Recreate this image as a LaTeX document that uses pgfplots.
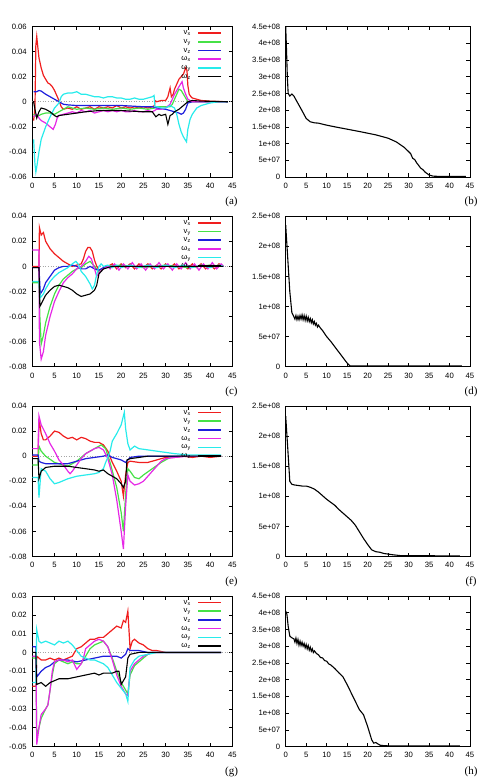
\documentclass[border=0pt]{standalone}
\usepackage{fontspec}
\setmainfont{Liberation Serif}
\newfontfamily\sansf{Liberation Sans}
\usepackage{pgfplots}
\pgfplotsset{compat=1.18}
\newcommand\tickfont{\sansf\fontsize{7.7}{9}\selectfont}
\newcommand\labfont{\rmfamily\fontsize{11}{13}\selectfont}
\definecolor{cR}{RGB}{240,30,30}
\definecolor{cG}{RGB}{70,225,70}
\definecolor{cB}{RGB}{30,30,220}
\definecolor{cM}{RGB}{230,40,230}
\definecolor{cC}{RGB}{40,235,235}
\pgfplotsset{
  base/.style={scale only axis, anchor=south west, xmin=0, xmax=45,
    xtick={0,5,...,45}, xticklabels={0,5,10,15,20,25,30,35,40,45},
    scaled x ticks=false, scaled y ticks=false,
    tick align=inside, major tick length=3.5pt,
    every tick/.style={black, line width=0.5pt},
    axis line style={line width=0.6pt},
    ticklabel style={font=\tickfont},
    xticklabel style={yshift=-2.5pt},
    yticklabel style={xshift=-2pt},
    height=150.5pt},
  lpanel/.style={base, width=200pt,
    legend style={draw=none, fill=none, font=\tickfont, at={(0.9485,0.987)}, anchor=north east,
      inner sep=0pt, column sep=6pt, nodes={inner sep=0.5pt, text height=5.5pt, text depth=2.2pt}},
    legend plot pos=right, legend cell align=right,
    legend image code/.code={\draw[##1, line width=1.6pt] (0pt,0pt) -- (23pt,0pt);}},
  rpanel/.style={base, width=184.3pt, ymin=0, clip=false},
  ser/.style={#1, line width=1.2pt, no markers, solid},
  blk/.style={black, line width=1.1pt, no markers, solid},
  zline/.style={gray!70, dotted, line width=0.6pt, no markers, forget plot},
}
\begin{document}
\begin{tikzpicture}
\path[use as bounding box] (0,0) rectangle (484pt,780pt);
% ---------------- (a)
\begin{axis}[lpanel, at={(32.3pt,603pt)}, ymin=-0.06, ymax=0.06,
  ytick={-0.06,-0.04,-0.02,0,0.02,0.04,0.06}, yticklabels={-0.06,-0.04,-0.02,0,0.02,0.04,0.06}]
\addplot[zline] coordinates {(0,0) (45,0)};
\addplot[ser=cR] coordinates {(0.3,-0.015)(0.6,-0.005)(0.8,0.045)(1.0,0.052)(1.2,0.045)(1.5,0.035)(2,0.027)(2.5,0.021)(3,0.018)(3.5,0.015)(4,0.014)(4.5,0.012)(5,0.009)(5.5,0.005)(6,0.001)(6.5,-0.004)(7,-0.006)(8,-0.005)(9,-0.006)(10,-0.004)(11,-0.006)(12,-0.005)(13,-0.004)(14,-0.006)(15,-0.004)(16,-0.005)(17,-0.004)(18,-0.005)(19,-0.003)(20,-0.005)(21,-0.004)(22,-0.005)(23,-0.004)(24,-0.005)(25,-0.004)(26,-0.005)(27,-0.004)(27.5,-0.003)(27.6,0.001)(28,0.000)(29,0.001)(30,0.001)(30.5,0.004)(31,0.011)(31.3,0.004)(31.7,0.006)(32,0.010)(32.5,0.014)(33,0.018)(33.5,0.020)(34,0.022)(34.5,0.027)(34.8,0.025)(35,0.013)(35.3,0.006)(35.7,0.004)(36,0.003)(37,0.002)(38,0.001)(40,0.0005)(42,0.0002)(44,0)};
\addlegendentry{v\textsubscript{x}}
\addplot[ser=cG] coordinates {(0.3,-0.01)(1,-0.012)(2,-0.010)(3,-0.009)(4,-0.009)(5,-0.010)(6,-0.008)(7,-0.006)(8,-0.004)(9,-0.005)(10,-0.006)(12,-0.005)(14,-0.006)(16,-0.005)(18,-0.006)(20,-0.005)(22,-0.006)(24,-0.005)(26,-0.006)(27.5,-0.005)(28,-0.004)(29,-0.004)(30,-0.004)(31,-0.004)(31.5,-0.002)(32,0.002)(32.5,0.006)(33,0.010)(33.5,0.009)(34,0.006)(34.5,0.003)(35,0.000)(36,0.000)(40,0)(44,0)};
\addlegendentry{v\textsubscript{y}}
\addplot[ser=cB] coordinates {(0.3,0.008)(1,0.008)(1.5,0.009)(2,0.0085)(3,0.006)(4,0.004)(5,0.002)(6,0.000)(7,-0.002)(8,-0.0025)(10,-0.003)(15,-0.003)(20,-0.003)(25,-0.004)(27,-0.004)(28,-0.005)(30,-0.006)(31,-0.007)(32,-0.008)(33,-0.009)(33.5,-0.010)(34,-0.009)(34.5,-0.006)(35,-0.001)(36,0.000)(44,0)};
\addlegendentry{v\textsubscript{z}}
\addplot[ser=cM] coordinates {(0.3,-0.012)(1,-0.010)(1.5,-0.013)(2,-0.015)(3,-0.017)(4,-0.020)(4.7,-0.022)(5.2,-0.018)(5.6,-0.013)(6,-0.011)(7,-0.010)(8,-0.009)(9,-0.008)(10,-0.009)(11,-0.007)(12,-0.008)(13,-0.007)(14,-0.009)(15,-0.008)(16,-0.007)(17,-0.008)(18,-0.007)(19,-0.008)(20,-0.007)(21,-0.008)(22,-0.008)(23,-0.007)(24,-0.008)(25,-0.008)(26,-0.007)(27,-0.008)(28,-0.006)(29,-0.006)(30,-0.005)(31,-0.002)(32,0.006)(32.5,0.009)(33,0.012)(33.7,0.016)(34,0.011)(34.5,0.006)(35,0.002)(36,0.000)(44,0)};
\addlegendentry{ω\textsubscript{x}}
\addplot[ser=cC] coordinates {(0.3,-0.030)(0.6,-0.050)(0.8,-0.056)(1.0,-0.052)(1.5,-0.040)(2,-0.030)(2.5,-0.025)(3,-0.020)(4,-0.012)(5,-0.005)(6,-0.001)(6.5,0.004)(7,0.006)(8,0.007)(9,0.007)(10,0.008)(11,0.006)(12,0.006)(13,0.005)(14,0.004)(15,0.004)(16,0.003)(17,0.004)(18,0.004)(19,0.003)(20,0.003)(21,0.002)(22,0.002)(23,0.003)(24,0.002)(25,0.002)(26,0.003)(27,0.004)(27.4,0.005)(27.6,-0.004)(28,-0.004)(29,-0.005)(30,-0.005)(31,-0.003)(32,-0.005)(32.5,-0.010)(33,-0.018)(33.5,-0.024)(34,-0.028)(34.7,-0.032)(35,-0.022)(35.5,-0.014)(36,-0.010)(37,-0.005)(38,-0.003)(40,-0.001)(42,0)(44,0)};
\addlegendentry{ω\textsubscript{y}}
\addplot[blk] coordinates {(0.3,0.000)(0.6,-0.006)(1,-0.013)(1.5,-0.008)(2,-0.005)(3,-0.006)(4,-0.008)(5,-0.011)(5.5,-0.012)(6,-0.011)(8,-0.010)(10,-0.009)(12,-0.008)(15,-0.007)(20,-0.007)(25,-0.008)(27,-0.008)(27.8,-0.012)(28.5,-0.010)(29,-0.011)(30,-0.010)(30.5,-0.018)(31,-0.011)(31.5,-0.010)(32,-0.008)(33,-0.006)(34,-0.003)(35,0.000)(36,0.001)(38,0.0005)(44,0)};
\addlegendentry{ω\textsubscript{z}}
\end{axis}
% ---------------- (b)
\begin{axis}[rpanel, at={(285.7pt,603pt)}, ymax=4.5e8,
  ytick={0,5e7,1e8,1.5e8,2e8,2.5e8,3e8,3.5e8,4e8,4.5e8},
  yticklabels={0,5e+07,1e+08,1.5e+08,2e+08,2.5e+08,3e+08,3.5e+08,4e+08,4.5e+08}]
\addplot[blk] coordinates {(0,4.5e8)(0.2,3.8e8)(0.4,3.0e8)(0.6,2.5e8)(1,2.42e8)(1.5,2.48e8)(2,2.42e8)(3,2.2e8)(4,1.98e8)(5,1.75e8)(6,1.65e8)(7,1.62e8)(8,1.61e8)(10,1.55e8)(12,1.5e8)(15,1.43e8)(18,1.36e8)(20,1.31e8)(22,1.26e8)(25,1.16e8)(27,1.05e8)(29,0.88e8)(30,0.76e8)(30.5,0.7e8)(31,0.56e8)(31.5,0.52e8)(32,0.42e8)(33,0.26e8)(33.5,0.22e8)(34,0.15e8)(35,0.06e8)(36,0.025e8)(37,0.02e8)(44,0.02e8)};
\end{axis}
% ---------------- (c)
\begin{axis}[lpanel, at={(32.3pt,413.3pt)}, ymin=-0.08, ymax=0.04,
  ytick={-0.08,-0.06,-0.04,-0.02,0,0.02,0.04}, yticklabels={-0.08,-0.06,-0.04,-0.02,0,0.02,0.04}]
\addplot[zline] coordinates {(0,0) (45,0)};
\addplot[ser=cR] coordinates {(0,0.000)(1.5,0.000)(1.6,0.031)(2,0.025)(2.5,0.027)(3,0.020)(4,0.014)(5,0.010)(6,0.007)(7,0.004)(8,0.002)(9,0.000)(10,0.001)(11,0.002)(11.5,0.006)(12,0.012)(12.5,0.015)(13,0.015)(13.5,0.012)(14,0.005)(14.5,0.000)(15,-0.003)(16,-0.002)(17,0.000)(18,0.002)(19,-0.002)(20,0.002)(21,-0.001)(22,0.002)(23,-0.002)(24,0.002)(25,-0.001)(26,0.002)(27,-0.002)(28,0.001)(29,-0.002)(30,0.002)(31,-0.001)(32,0.002)(33,-0.002)(34,0.001)(35,-0.002)(36,0.002)(37,-0.001)(38,0.002)(39,-0.002)(40,0.001)(41,-0.002)(42,0.002)(43,0)};
\addlegendentry{v\textsubscript{x}}
\addplot[ser=cG] coordinates {(0,-0.013)(1.5,-0.013)(1.7,-0.040)(2,-0.062)(2.5,-0.055)(3,-0.045)(4,-0.032)(5,-0.022)(6,-0.015)(7,-0.010)(8,-0.007)(9,-0.004)(10,-0.002)(11,-0.001)(12,0.002)(13,0.004)(14,0.000)(15,-0.005)(16,-0.002)(17,0.000)(20,0.001)(25,-0.001)(30,0.001)(35,-0.001)(40,0.001)(43,0)};
\addlegendentry{v\textsubscript{y}}
\addplot[ser=cB] coordinates {(0,-0.001)(1.5,-0.001)(1.8,-0.022)(2.5,-0.018)(3,-0.013)(4,-0.008)(5,-0.003)(6,-0.001)(7,0.000)(8,0.000)(9,0.001)(10,0.000)(11,-0.002)(12,-0.002)(13,0.000)(14,-0.002)(15,-0.003)(16,-0.001)(17,0.000)(43,0.000)};
\addlegendentry{v\textsubscript{z}}
\addplot[ser=cM] coordinates {(0,0.013)(1.5,0.013)(1.6,-0.060)(2,-0.074)(2.5,-0.068)(3,-0.055)(4,-0.040)(5,-0.028)(6,-0.020)(7,-0.013)(8,-0.009)(9,-0.006)(10,-0.002)(11,0.000)(12,0.004)(12.7,0.008)(13.3,0.006)(14,-0.002)(14.5,-0.008)(15,-0.005)(16,-0.002)(17,0.000)(17.5,-0.002)(18.5,0.002)(19.5,-0.003)(20.5,0.002)(21.5,-0.002)(22.5,0.003)(23.5,-0.002)(24.5,0.002)(25.5,-0.003)(26.5,0.002)(27.5,-0.002)(28.5,0.003)(29.5,-0.002)(30.5,0.002)(31.5,-0.003)(32.5,0.002)(33.5,-0.002)(34.5,0.003)(35.5,-0.002)(36.5,0.002)(37.5,-0.003)(38.5,0.002)(39.5,-0.002)(40.5,0.003)(41.5,-0.002)(42.5,0.002)(43,0)};
\addlegendentry{ω\textsubscript{x}}
\addplot[ser=cC] coordinates {(0,-0.012)(1.5,-0.012)(1.8,-0.025)(2.5,-0.022)(3,-0.018)(4,-0.012)(5,-0.008)(6,-0.005)(7,-0.003)(8,-0.001)(9,0.002)(9.8,0.004)(10.5,0.001)(11,-0.004)(12,-0.008)(13,-0.014)(13.5,-0.018)(14,-0.015)(14.5,-0.006)(15,0.000)(15.5,0.002)(16,0.000)(17,0.001)(18,-0.001)(19,0.001)(20,-0.001)(22,0.001)(24,-0.001)(26,0.001)(28,-0.001)(30,0.001)(32,-0.001)(34,0.001)(36,-0.001)(38,0.001)(40,-0.001)(42,0.001)(43,0)};
\addlegendentry{ω\textsubscript{y}}
\addplot[blk] coordinates {(0,-0.001)(1.5,-0.001)(1.7,-0.032)(2,-0.030)(3,-0.023)(4,-0.019)(5,-0.016)(6,-0.015)(7,-0.016)(8,-0.017)(9,-0.019)(10,-0.022)(11,-0.024)(12,-0.023)(13,-0.022)(14,-0.019)(14.5,-0.015)(15,-0.006)(16,-0.002)(17,-0.001)(18,0)(43,0)};
\addlegendentry{ω\textsubscript{z}}
\end{axis}
% ---------------- (d)
\begin{axis}[rpanel, at={(285.7pt,413.3pt)}, ymax=2.5e8,
  ytick={0,5e7,1e8,1.5e8,2e8,2.5e8},
  yticklabels={0,5e+07,1e+08,1.5e+08,2e+08,2.5e+08}]
\addplot[blk] coordinates {(0,2.35e8)(0.5,1.8e8)(1,1.25e8)(1.5,0.9e8)(2,0.83e8)(2.25,0.79e8)(2.5,0.85e8)(2.75,0.78e8)(3,0.84e8)(3.25,0.78e8)(3.5,0.85e8)(3.75,0.79e8)(4,0.86e8)(4.25,0.78e8)(4.5,0.85e8)(4.75,0.77e8)(5,0.84e8)(5.25,0.76e8)(5.5,0.82e8)(5.75,0.75e8)(6,0.80e8)(6.25,0.73e8)(6.5,0.78e8)(6.75,0.71e8)(7,0.75e8)(7.25,0.69e8)(7.5,0.72e8)(7.75,0.66e8)(8,0.69e8)(8.5,0.64e8)(9,0.60e8)(10,0.50e8)(11,0.42e8)(12,0.33e8)(13,0.24e8)(14,0.15e8)(15,0.06e8)(15.7,0.015e8)(16,0.012e8)(43,0.012e8)};
\end{axis}
% ---------------- (e)
\begin{axis}[lpanel, at={(32.3pt,223.5pt)}, ymin=-0.08, ymax=0.04,
  ytick={-0.08,-0.06,-0.04,-0.02,0,0.02,0.04}, yticklabels={-0.08,-0.06,-0.04,-0.02,0,0.02,0.04}]
\addplot[zline] coordinates {(0,0) (45,0)};
\addplot[ser=cR] coordinates {(0,0.000)(1.3,0.000)(1.5,0.030)(2,0.018)(2.5,0.013)(3,0.013)(4,0.016)(5,0.020)(6,0.019)(7,0.016)(8,0.014)(9,0.015)(10,0.013)(11,0.015)(12,0.014)(13,0.012)(14,0.011)(15,0.011)(16,0.009)(17,0.004)(18,-0.005)(19,-0.012)(20,-0.020)(20.5,-0.032)(21,-0.015)(21.5,-0.005)(22,-0.004)(24,-0.005)(26,-0.005)(28,-0.003)(30,-0.001)(32,-0.001)(34,0.000)(36,-0.001)(38,0.000)(40,-0.001)(42.5,0)};
\addlegendentry{v\textsubscript{x}}
\addplot[ser=cG] coordinates {(0,-0.007)(1.3,-0.007)(1.5,0.008)(2,0.004)(3,0.000)(5,-0.005)(7,-0.007)(8,-0.008)(10,-0.004)(12,0.002)(14,0.006)(15.5,0.009)(16.5,0.006)(17.5,-0.005)(19,-0.025)(20,-0.045)(20.5,-0.060)(21,-0.030)(21.5,-0.010)(22,-0.012)(23,-0.017)(24,-0.018)(25,-0.015)(27,-0.010)(29,-0.005)(31,-0.001)(33,0)(42.5,0)};
\addlegendentry{v\textsubscript{y}}
\addplot[ser=cB] coordinates {(0,0.001)(1.3,0.001)(1.5,-0.004)(2,-0.005)(3,-0.006)(5,-0.006)(8,-0.006)(10,-0.004)(12,-0.002)(14,-0.001)(16,0.000)(17,0.001)(18,-0.001)(19,-0.002)(20,-0.003)(21,-0.005)(22,-0.001)(24,0.000)(42.5,0)};
\addlegendentry{v\textsubscript{z}}
\addplot[ser=cM] coordinates {(0,0.006)(1.3,0.006)(1.5,0.032)(2,0.025)(3,0.018)(4,0.010)(5,0.004)(6,-0.003)(7,-0.007)(8,-0.012)(8.5,-0.014)(9,-0.012)(10,-0.007)(11,-0.002)(12,0.002)(13,0.004)(14,0.006)(15,0.007)(16,0.005)(17,-0.002)(18,-0.015)(19,-0.035)(20,-0.060)(20.5,-0.074)(21,-0.040)(21.5,-0.015)(22,-0.020)(23,-0.023)(24,-0.022)(25,-0.020)(26,-0.016)(27,-0.012)(28,-0.008)(29,-0.004)(30,-0.002)(32,-0.001)(35,0)(42.5,0)};
\addlegendentry{ω\textsubscript{x}}
\addplot[ser=cC] coordinates {(0,-0.017)(1.3,-0.017)(1.5,-0.033)(2,-0.010)(3,-0.012)(4,-0.018)(5,-0.022)(6,-0.021)(8,-0.018)(10,-0.016)(12,-0.015)(14,-0.014)(15,-0.013)(16,-0.010)(16.5,-0.005)(17,-0.001)(17.5,0.004)(18,0.012)(19,0.018)(20,0.025)(20.7,0.035)(21,0.022)(21.5,0.010)(22,0.005)(23,0.008)(24,0.006)(26,0.005)(28,0.004)(30,0.003)(32,0.002)(35,0.001)(42.5,0.001)};
\addlegendentry{ω\textsubscript{y}}
\addplot[blk] coordinates {(0,-0.002)(1.3,-0.002)(1.5,-0.018)(2,-0.012)(3,-0.009)(5,-0.008)(8,-0.008)(10,-0.009)(12,-0.010)(14,-0.011)(15,-0.012)(16,-0.011)(17,-0.014)(18,-0.016)(19,-0.018)(20,-0.022)(20.5,-0.025)(21,-0.020)(21.3,-0.003)(22,-0.002)(24,-0.001)(26,0)(42.5,0)};
\addlegendentry{ω\textsubscript{z}}
\end{axis}
% ---------------- (f)
\begin{axis}[rpanel, at={(285.7pt,223.5pt)}, ymax=2.5e8,
  ytick={0,5e7,1e8,1.5e8,2e8,2.5e8},
  yticklabels={0,5e+07,1e+08,1.5e+08,2e+08,2.5e+08}]
\addplot[blk] coordinates {(0,2.33e8)(0.5,1.8e8)(1,1.25e8)(1.5,1.2e8)(2,1.19e8)(3,1.18e8)(4,1.17e8)(5,1.17e8)(6,1.15e8)(7,1.12e8)(8,1.07e8)(9,1.01e8)(10,0.95e8)(11,0.9e8)(12,0.85e8)(13,0.78e8)(14,0.72e8)(15,0.66e8)(16,0.6e8)(17,0.52e8)(18,0.41e8)(19,0.3e8)(20,0.2e8)(21,0.11e8)(22,0.08e8)(23,0.07e8)(24,0.05e8)(25,0.04e8)(26,0.03e8)(28,0.015e8)(30,0.012e8)(35,0.012e8)(42.5,0.01e8)};
\end{axis}
% ---------------- (g)
\begin{axis}[lpanel, at={(32.3pt,33.5pt)}, ymin=-0.05, ymax=0.03,
  ytick={-0.05,-0.04,-0.03,-0.02,-0.01,0,0.01,0.02,0.03}, yticklabels={-0.05,-0.04,-0.03,-0.02,-0.01,0,0.01,0.02,0.03}]
\addplot[zline] coordinates {(0,0) (45,0)};
\addplot[ser=cR] coordinates {(0,-0.018)(0.8,-0.018)(1,-0.002)(2,-0.004)(3,-0.004)(4,-0.003)(5,-0.004)(6,-0.003)(7,-0.004)(8,-0.003)(9,-0.002)(10,0.002)(11,0.003)(12,0.005)(13,0.007)(14,0.007)(15,0.008)(16,0.008)(17,0.010)(18,0.012)(19,0.014)(20,0.013)(20.5,0.017)(21,0.016)(21.5,0.022)(21.8,0.010)(22,0.002)(22.5,0.006)(23,0.007)(24,0.005)(25,0.004)(26,0.002)(27,0.001)(28,0.001)(30,0)(42.5,0)};
\addlegendentry{v\textsubscript{x}}
\addplot[ser=cG] coordinates {(0,-0.003)(0.8,-0.003)(1,-0.045)(2,-0.035)(3,-0.030)(3.5,-0.028)(4,-0.020)(4.5,-0.012)(5,-0.006)(6,-0.004)(7,-0.005)(8,-0.006)(9,-0.005)(10,-0.006)(11,-0.006)(12,-0.002)(13,0.002)(14,0.004)(15,0.005)(16,0.006)(17,0.003)(18,-0.003)(19,-0.010)(20,-0.016)(21,-0.020)(21.5,-0.022)(22,-0.012)(23,-0.007)(24,-0.005)(25,-0.003)(26,-0.001)(27,0)(42.5,0)};
\addlegendentry{v\textsubscript{y}}
\addplot[ser=cB] coordinates {(0,0.003)(0.8,0.003)(1,-0.013)(2,-0.010)(3,-0.008)(4,-0.007)(5,-0.005)(6,-0.004)(8,-0.004)(10,-0.005)(12,-0.004)(14,-0.003)(16,-0.002)(18,-0.002)(19,-0.002)(20,-0.003)(21,-0.001)(21.5,0.002)(22,0.001)(24,0.001)(26,0)(42.5,0)};
\addlegendentry{v\textsubscript{z}}
\addplot[ser=cM] coordinates {(0,-0.002)(0.8,-0.002)(1,-0.049)(1.5,-0.040)(2,-0.033)(3,-0.030)(3.5,-0.028)(4,-0.020)(4.5,-0.010)(5,-0.005)(6,-0.004)(7,-0.004)(8,-0.005)(9,-0.004)(10,-0.009)(11,-0.006)(11.5,-0.003)(12,0.002)(13,0.004)(14,0.006)(15,0.007)(16,0.006)(17,0.003)(18,-0.004)(19,-0.012)(20,-0.018)(21,-0.022)(21.5,-0.023)(22,-0.010)(23,-0.006)(24,-0.004)(25,-0.002)(26,-0.001)(27,0)(42.5,0)};
\addlegendentry{ω\textsubscript{x}}
\addplot[ser=cC] coordinates {(0,-0.016)(0.8,-0.016)(1,0.012)(1.5,0.006)(2,0.005)(3,0.006)(4,0.005)(5,0.004)(6,0.006)(7,0.005)(8,0.006)(9,0.004)(10,0.001)(11,-0.002)(12,-0.003)(13,-0.004)(14,-0.004)(15,-0.005)(16,-0.006)(17,-0.008)(18,-0.012)(19,-0.016)(20,-0.019)(21,-0.022)(21.5,-0.026)(22,-0.008)(23,-0.004)(24,-0.002)(26,-0.001)(28,0)(42.5,0)};
\addlegendentry{ω\textsubscript{y}}
\addplot[blk] coordinates {(0,0.000)(0.8,0.000)(1,-0.017)(2,-0.016)(3,-0.018)(4,-0.016)(5,-0.015)(6,-0.014)(8,-0.014)(10,-0.013)(12,-0.012)(14,-0.011)(15,-0.012)(16,-0.011)(18,-0.011)(19,-0.010)(19.5,-0.010)(20,-0.017)(21,-0.013)(21.5,-0.003)(22,-0.001)(24,0)(42.5,0)};
\addlegendentry{ω\textsubscript{z}}
\end{axis}
% ---------------- (h)
\begin{axis}[rpanel, at={(285.7pt,33.5pt)}, ymax=4.5e8,
  ytick={0,5e7,1e8,1.5e8,2e8,2.5e8,3e8,3.5e8,4e8,4.5e8},
  yticklabels={0,5e+07,1e+08,1.5e+08,2e+08,2.5e+08,3e+08,3.5e+08,4e+08,4.5e+08}]
\addplot[blk] coordinates {(0,4.05e8)(0.3,3.95e8)(0.6,3.6e8)(1,3.3e8)(1.5,3.25e8)(2,3.22e8)(2.25,3.12e8)(2.5,3.24e8)(2.75,3.08e8)(3,3.2e8)(3.25,3.03e8)(3.5,3.15e8)(3.75,3.02e8)(4,3.12e8)(4.25,3.0e8)(4.5,3.08e8)(4.75,2.95e8)(5,3.05e8)(5.25,2.92e8)(5.5,3.02e8)(5.75,2.88e8)(6,2.97e8)(6.25,2.85e8)(6.5,2.92e8)(6.75,2.81e8)(7,2.86e8)(7.5,2.78e8)(8,2.74e8)(8.5,2.66e8)(9,2.65e8)(9.5,2.57e8)(10,2.55e8)(10.5,2.47e8)(11,2.44e8)(12,2.33e8)(13,2.2e8)(14,2.08e8)(15,1.85e8)(16,1.6e8)(17,1.35e8)(18,1.1e8)(19,0.95e8)(20,0.6e8)(21,0.2e8)(21.5,0.1e8)(22,0.12e8)(22.5,0.08e8)(23,0.04e8)(24,0.025e8)(25,0.02e8)(42.5,0.02e8)};
\end{axis}
% labels
\node[font=\labfont] at (231.5pt,578pt) {(a)};
\node[font=\labfont] at (471pt,578pt) {(b)};
\node[font=\labfont] at (231.5pt,388.3pt) {(c)};
\node[font=\labfont] at (471pt,388.3pt) {(d)};
\node[font=\labfont] at (231.5pt,198.5pt) {(e)};
\node[font=\labfont] at (471pt,198.5pt) {(f)};
\node[font=\labfont] at (231.5pt,8.5pt) {(g)};
\node[font=\labfont] at (471pt,8.5pt) {(h)};
\end{tikzpicture}
\end{document}
